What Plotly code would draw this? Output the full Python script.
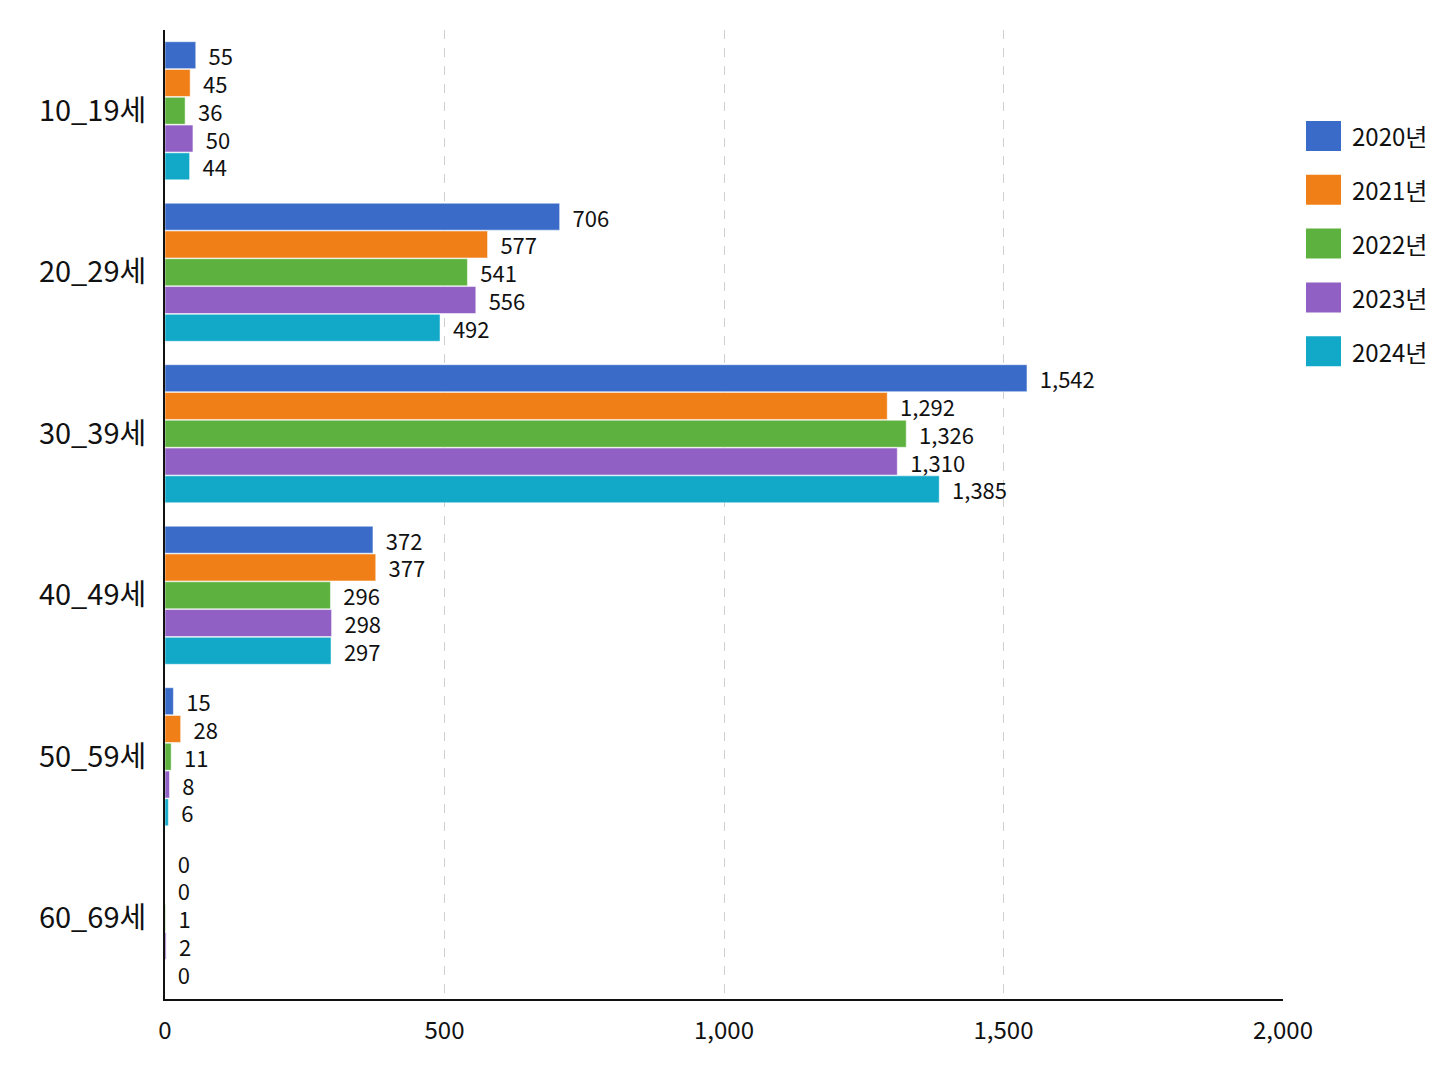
import plotly.graph_objects as go

categories = ["10_19세", "20_29세", "30_39세", "40_49세", "50_59세", "60_69세"]
series_names = ["2020년", "2021년", "2022년", "2023년", "2024년"]
v2020 = [55, 706, 1542, 372, 15, 0]
v2021 = [45, 577, 1292, 377, 28, 0]
v2022 = [36, 541, 1326, 296, 11, 1]
v2023 = [50, 556, 1310, 298, 8, 2]
v2024 = [44, 492, 1385, 297, 6, 0]
values = [v2020, v2021, v2022, v2023, v2024]
colors = ["#3a6bc9", "#f07f17", "#5db13e", "#9160c5", "#12a9c9"]
x_ticks = [0, 500, 1000, 1500, 2000]

FONT = "Noto Sans CJK KR"
fig = go.Figure()
for name, vals, col in zip(series_names, values, colors):
    fig.add_trace(go.Bar(
        y=categories, x=vals, name=name, orientation="h",
        marker=dict(color=col, line=dict(color="white", width=0.5)),
        texttemplate="\u00a0\u00a0%{x:,}", textposition="outside",
        textfont=dict(size=22, color="#111", family=FONT),
        constraintext="none",
        cliponaxis=False, showlegend=False,
    ))

OFF = 8  # page body margin
W, H = 1448 - OFF, 1086 - OFF
L, R, T, B = 165 - OFF, 1283 - OFF, 30 - OFF, 999 - OFF
fig.update_layout(
    width=W, height=H,
    margin=dict(l=L, r=W - R, t=T, b=H - B),
    barmode="group", bargap=0.14, bargroupgap=0.03,
    plot_bgcolor="white", paper_bgcolor="white",
    font=dict(family=FONT, color="#111"),
    showlegend=False,
)
fig.update_xaxes(
    range=[0, 2000], tickvals=x_ticks, tickformat=",",
    tickfont=dict(size=24, family=FONT, color="#111"),
    showgrid=True, gridcolor="#d0d0d0", griddash="dash", gridwidth=1,
    zeroline=False, showline=True, linecolor="#111", linewidth=2,
    ticks="", ticklabelstandoff=9,
)
fig.update_yaxes(
    autorange="reversed",
    tickfont=dict(size=29, family=FONT, color="#111"),
    showline=True, linecolor="#111", linewidth=2, ticks="",
    ticklabelstandoff=11, showgrid=False,
)

# manual legend
pw = R - L
ph = B - T
for i, (name, col) in enumerate(zip(series_names, colors)):
    yc = 136 + i * 53.8 - OFF
    x0 = (1306 - OFF - L) / pw
    x1 = (1341 - OFF - L) / pw
    y0 = (B - (yc + 15)) / ph
    y1 = (B - (yc - 15)) / ph
    fig.add_shape(type="rect", xref="paper", yref="paper",
                  x0=x0, x1=x1, y0=y0, y1=y1,
                  fillcolor=col, line=dict(width=0))
    fig.add_annotation(xref="paper", yref="paper",
                       x=(1350 - OFF - L) / pw, y=(B - yc) / ph,
                       text=name, showarrow=False, xanchor="left", yanchor="middle",
                       font=dict(size=24, family=FONT, color="#111"))

fig.write_html("out.html")
